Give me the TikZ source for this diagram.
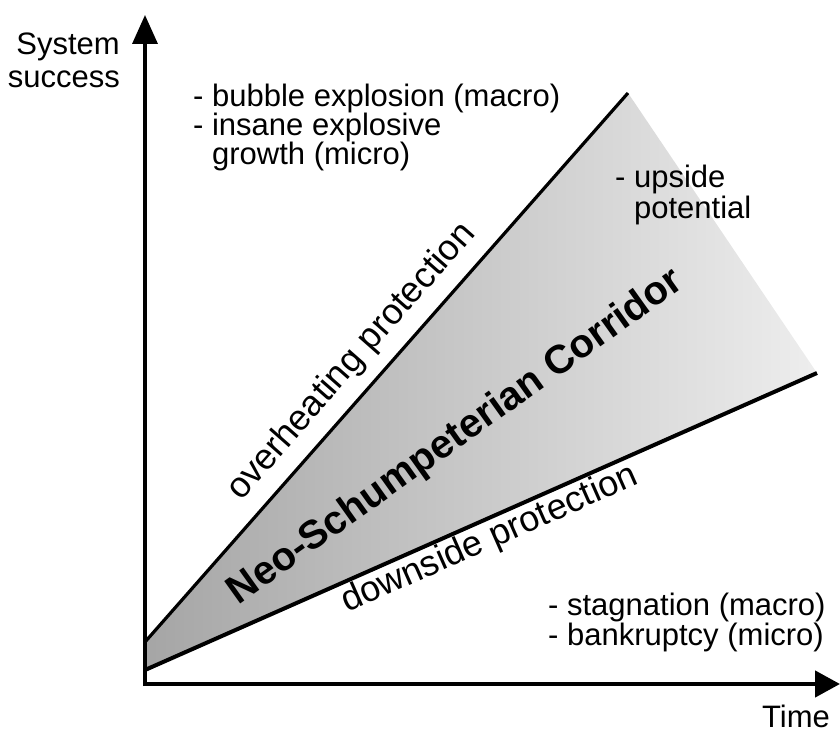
\documentclass[tikz,border=0pt]{standalone}
\usepackage{fontspec}
\setmainfont{Liberation Sans}
\usetikzlibrary{arrows.meta}
\definecolor{cdark}{gray}{0.60}
\definecolor{clight}{gray}{0.94}
\begin{document}
\begin{tikzpicture}[x=1pt,y=1pt,
  lbl/.style={font=\fontsize{31}{31}\selectfont, inner sep=0pt},
  rlbl/.style={font=\fontsize{36}{36}\selectfont, inner sep=0pt, anchor=base},
  yaxis/.style={line width=3.5pt, -{Triangle[length=29pt,width=25pt]}},
  xaxis/.style={line width=4.5pt, -{Triangle[length=25pt,width=26pt]}},
  boundline/.style={line width=3.5pt}]
\useasboundingbox (0,0) rectangle (840,731);
% key points
\coordinate (O) at (145,47);
\coordinate (Ob) at (145,45);
\coordinate (Ytip) at (145,716);
\coordinate (Xs) at (143.5,47);
\coordinate (Xtip) at (840,47);
\coordinate (U0) at (145,89);
\coordinate (U1) at (628,638);
\coordinate (L0) at (145,61);
\coordinate (L1) at (817,358);
% corridor with gradient
\begin{scope}
  \clip (L0) -- (U0) -- (U1) -- (L1) -- cycle;
  \shade[rotate=36, left color=cdark, right color=clight] (150,-200) rectangle (890,155);
\end{scope}
% boundary lines
\draw[boundline, line width=3.2pt] (U0) -- (U1);
\draw[boundline, line width=4pt] (L0) -- (L1);
% axes
\draw[yaxis] (Ob) -- (Ytip);
\draw[xaxis] (Xs) -- (Xtip);
% labels
\node[lbl, anchor=base east] (sys1) at (120,676) {System};
\node[lbl, anchor=base east] (sys2) at (120,643) {success};
\node[lbl, anchor=base west] (bub1) at (193,624) {- bubble explosion (macro)};
\node[lbl, anchor=base west] (bub2) at (193,595) {- insane explosive};
\node[lbl, anchor=base west] (bub3) at (193,566) {\phantom{- }growth (micro)};
\node[lbl, anchor=base west] (up1) at (615,543) {- upside};
\node[lbl, anchor=base west] (up2) at (615,512) {\phantom{- }potential};
\node[lbl, anchor=base west] (st1) at (548,116) {- stagnation (macro)};
\node[lbl, anchor=base west] (st2) at (548,86) {- bankruptcy (micro)};
\node[lbl, anchor=base east] (time) at (830,4) {Time};
% rotated labels
\node[rlbl, rotate=48.66] (over) at (358.8,363.1) {overheating protection};
\node[rlbl, rotate=23.84] (down) at (493.6,182.8) {downside protection};
\node[font=\fontsize{40}{40}\selectfont\bfseries, inner sep=0pt, anchor=base, rotate=35.5] (neo) at (462,285) {Neo-Schumpeterian Corridor};
\end{tikzpicture}
\end{document}
